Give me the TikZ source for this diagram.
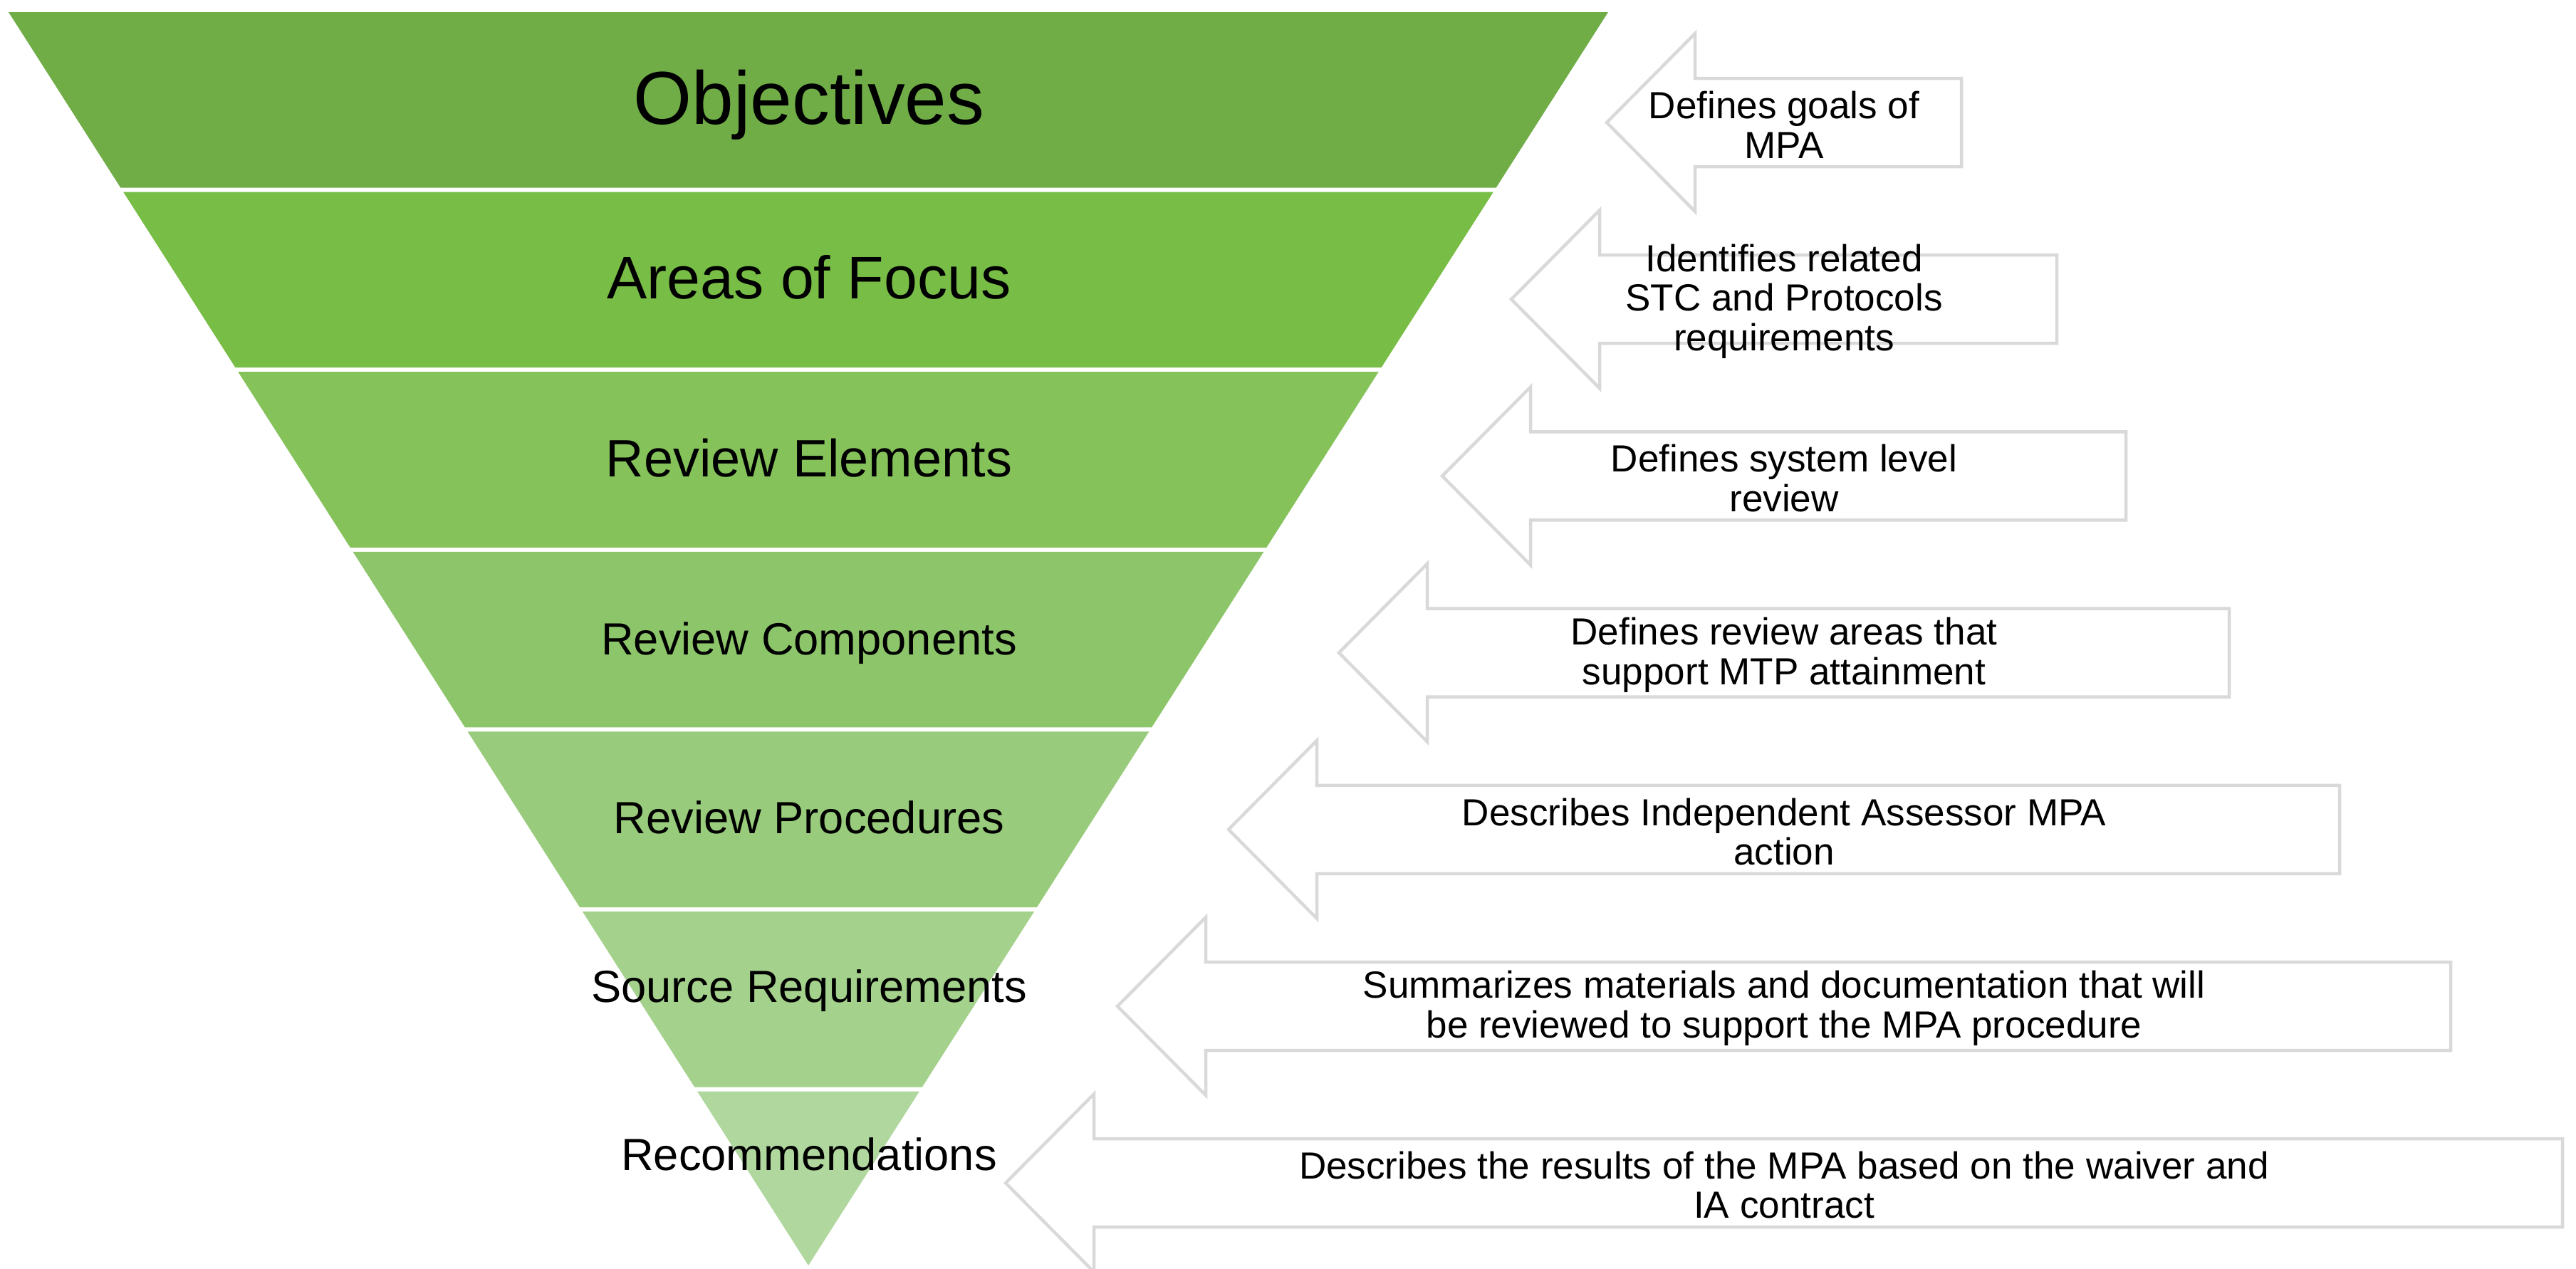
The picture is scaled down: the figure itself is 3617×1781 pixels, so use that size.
\documentclass[tikz,border=0pt]{standalone}
\usepackage{fontspec}
\setmainfont{Liberation Sans}
\usetikzlibrary{calc}
\definecolor{band1}{HTML}{70AD47}
\definecolor{band2}{HTML}{78BD46}
\definecolor{band3}{HTML}{85C25A}
\definecolor{band4}{HTML}{8DC66A}
\definecolor{band5}{HTML}{98CB7B}
\definecolor{band6}{HTML}{A4D18C}
\definecolor{band7}{HTML}{B0D79E}
\definecolor{arrowgray}{HTML}{D9D9D9}
\tikzset{
    x=0.1mm,
    y=-0.1mm,
    band label/.style={
        anchor=base,
        text=black
    },
    note arrow/.style={
        draw=arrowgray,
        fill=white,
        line width=0.45mm,
        line join=miter
    },
    note text/.style={
        align=center,
        text=black,
        font=\fontsize{15.1}{15.8}\selectfont
    }
}

\begin{document}
\begin{tikzpicture}
    \useasboundingbox (0,0) rectangle (3617,1781);

    % funnel
    \coordinate (tl) at (12,17);
    \coordinate (tr) at (2258,17);
    \coordinate (apex) at (1135,1777);
    \foreach \i in {1,...,7} {
        \pgfmathsetmacro\ta{(252.6*(\i-1))/1760}
        \pgfmathsetmacro\tb{min(1,(252.6*(\i-1)+246.6)/1760)}
        \fill[band\i] ($(tl)!\ta!(apex)$) -- ($(tr)!\ta!(apex)$)
            -- ($(tr)!\tb!(apex)$) -- ($(tl)!\tb!(apex)$) -- cycle;
    }

    \foreach \i/\yb/\fs/\txt in {1/174/30/Objectives, 2/419/24/Areas of Focus,
            3/669/21/Review Elements, 4/919/18/Review Components,
            5/1170/18/Review Procedures, 6/1407/18/Source Requirements,
            7/1643/18/Recommendations}
        \node[band label, font=\fontsize{\fs}{\fs}\selectfont] (lbl\i) at (1136,\yb) {\txt};

    % arrows
    \foreach \i/\w/\txt in {1/249/{Defines goals of\\MPA},
            2/383/{Identifies related\\STC and Protocols\\requirements},
            3/480/{Defines system level\\review},
            4/625/{Defines review areas that\\support MTP attainment},
            5/780/{Describes Independent Assessor MPA\\action},
            6/936/{Summarizes materials and documentation that will\\be reviewed to support the MPA procedure},
            7/1093/{Describes the results of the MPA based on the waiver and\\IA contract}} {
        \pgfmathsetmacro\c{172+248.2*(\i-1)}
        \pgfmathsetmacro\l{2505-\w}
        \pgfmathsetmacro\h{2505-\w+124}
        \pgfmathsetmacro\r{2505+\w}
        \draw[note arrow] (\l,\c) -- (\h,\c-125) -- (\h,\c-62) -- (\r,\c-62)
            -- (\r,\c+62) -- (\h,\c+62) -- (\h,\c+125) -- cycle;
        \node[note text] (note\i) at (2505,\c+3) {\txt};
    }
\end{tikzpicture}
\end{document}
